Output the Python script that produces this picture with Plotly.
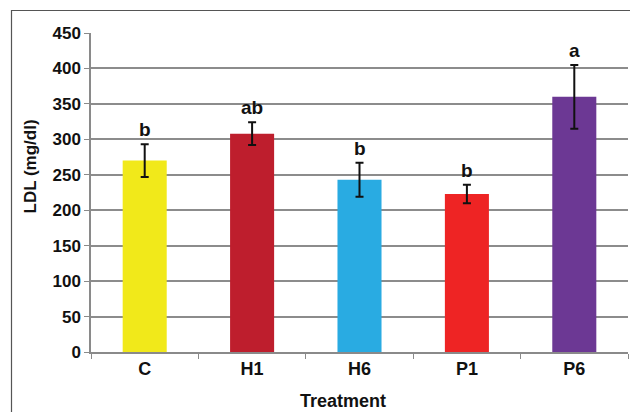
import plotly.graph_objects as go

# LDL by treatment group
treatments = ["C", "H1", "H6", "P1", "P6"]
ldl_mean = [270, 308, 243, 223, 360]
ldl_err = [23, 16, 24, 13, 45]
sig_letters = ["b", "ab", "b", "b", "a"]
bar_colors = ["#F1E91A", "#BE1E2D", "#29ABE2", "#EE2424", "#6C3894"]
y_ticks = [0, 50, 100, 150, 200, 250, 300, 350, 400, 450]

W, H = 630, 412
L, R, T, B = 91, 2, 33, 60
pw, ph = W - L - R, H - T - B
FONT = "Liberation Sans, Arial"


def px_x(x):
    return (x - L) / pw


def px_y(y):
    return (H - B - y) / ph


fig = go.Figure()
fig.add_trace(go.Bar(
    x=treatments,
    y=ldl_mean,
    marker=dict(color=bar_colors, line=dict(width=0)),
    error_y=dict(type="data", array=ldl_err, visible=True,
                 color="#111111", thickness=2, width=4),
    width=0.41,
))

for t, m, e, s in zip(treatments, ldl_mean, ldl_err, sig_letters):
    fig.add_annotation(x=t, y=m + e, text=f"<b>{s}</b>", showarrow=False,
                       yanchor="bottom", yshift=2,
                       font=dict(family=FONT, size=19, color="#111111"))

fig.add_annotation(xref="paper", yref="paper", x=px_x(30), y=px_y(166.5),
                   xanchor="center", yanchor="middle",
                   text="<b>LDL (mg/dl)</b>", textangle=-90, showarrow=False,
                   font=dict(family=FONT, size=17, color="#111111"))
fig.add_annotation(xref="paper", yref="paper", x=px_x(343), y=px_y(401),
                   xanchor="center", yanchor="middle",
                   text="<b>Treatment</b>", showarrow=False,
                   font=dict(family=FONT, size=18, color="#111111"))

# chart frame
fig.add_shape(type="line", xref="paper", yref="paper",
              x0=px_x(11), x1=px_x(640), y0=px_y(10.5), y1=px_y(10.5),
              line=dict(color="#555555", width=1.2))
fig.add_shape(type="line", xref="paper", yref="paper",
              x0=px_x(11.5), x1=px_x(11.5), y0=px_y(10), y1=px_y(420),
              line=dict(color="#555555", width=1.2))

fig.update_layout(
    width=W, height=H,
    margin=dict(l=L, r=R, t=T, b=B),
    paper_bgcolor="white", plot_bgcolor="white",
    showlegend=False,
    bargap=0.59,
    font=dict(family=FONT, color="#111111"),
)
fig.update_xaxes(
    showline=True, linecolor="#8a8a8a", linewidth=1.5,
    ticks="outside", tickson="boundaries", ticklen=5, tickcolor="#8a8a8a",
    tickfont=dict(size=18, family=FONT, weight="bold"),
    showgrid=False,
)
fig.update_yaxes(
    range=[0, 450], tickvals=y_ticks,
    showline=True, linecolor="#8a8a8a", linewidth=1.5,
    ticks="outside", ticklen=5, tickcolor="#8a8a8a",
    showgrid=True, gridcolor="#8c8c8c", gridwidth=1.5,
    zeroline=False,
    tickfont=dict(size=17, family=FONT, weight="bold"),
)

fig.write_html("out.html")
